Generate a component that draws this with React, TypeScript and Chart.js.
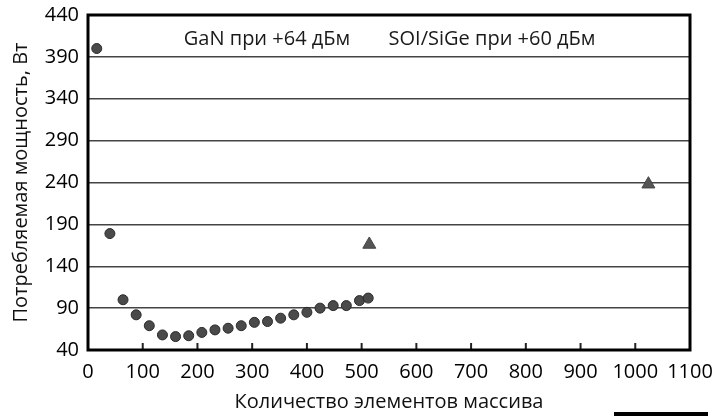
import React, { useEffect, useRef } from "react";
import { Chart, registerables } from "chart.js";

Chart.register(...registerables);

const ganX = [16, 40, 64, 88, 112, 136, 160, 184, 208, 232, 256, 280, 304, 328, 352, 376, 400, 424, 448, 472, 496, 512];
const ganY = [400, 179, 100, 82, 69, 58, 56, 57, 61, 64, 66, 69, 73, 74, 78, 82, 85, 90, 93, 93, 99, 102];
const soiX = [514, 1024];
const soiY = [166, 238];
const legendLabels = ["GaN при +64 дБм", "SOI/SiGe при +60 дБм"];
const xTitle = "Количество элементов массива";
const yTitle = "Потребляемая мощность, Вт";

const FONT = "'Open Sans', 'DejaVu Sans', sans-serif";

const decorPlugin = {
  id: "decor",
  afterDatasetsDraw(chart: any) {
    const { ctx, chartArea } = chart;
    const { left, right, top, bottom } = chartArea;
    const xs = chart.scales.x;
    ctx.save();
    ctx.strokeStyle = "#222";
    ctx.lineWidth = 2;
    xs.ticks.forEach((t: any) => {
      if (t.value <= 0 || t.value >= 1100) return;
      const px = xs.getPixelForValue(t.value);
      ctx.beginPath();
      ctx.moveTo(px, bottom);
      ctx.lineTo(px, bottom - 7);
      ctx.stroke();
    });
    ctx.strokeStyle = "#000";
    ctx.lineWidth = 3;
    ctx.strokeRect(left, top, right - left, bottom - top);
    ctx.fillStyle = "#1a1a1a";
    ctx.font = "20px " + FONT;
    ctx.textAlign = "center";
    ctx.textBaseline = "middle";
    ctx.fillText(legendLabels[0], left + (266 - 87), top + 24);
    ctx.fillText(legendLabels[1], left + (491 - 87), top + 24);
    ctx.fillStyle = "#000";
    ctx.fillRect(614, 412, 94, 4);
    ctx.restore();
  },
};

export default function App() {
  const ref = useRef<HTMLCanvasElement>(null);
  useEffect(() => {
    document.body.style.margin = "0";
    const chart = new Chart(ref.current!, {
      type: "scatter",
      data: {
        datasets: [
          {
            label: legendLabels[0],
            data: ganX.map((x, i) => ({ x, y: ganY[i] })),
            pointStyle: "circle",
            pointRadius: 5,
            backgroundColor: "#4a4a4a",
            borderColor: "#2a2a2a",
            borderWidth: 1,
          },
          {
            label: legendLabels[1],
            data: soiX.map((x, i) => ({ x, y: soiY[i] })),
            pointStyle: "triangle",
            pointRadius: 7.5,
            backgroundColor: "#555",
            borderColor: "#444",
            borderWidth: 1,
          },
        ],
      },
      options: {
        animation: false,
        responsive: true,
        maintainAspectRatio: false,
        layout: { padding: { top: 15, right: 30, left: 0, bottom: 0 } },
        plugins: { legend: { display: false }, tooltip: { enabled: false } },
        scales: {
          x: {
            type: "linear",
            min: 0,
            max: 1100,
            ticks: { stepSize: 100, color: "#000", padding: 10, font: { family: FONT, size: 20 }, maxRotation: 0, callback: (v: any) => String(v) },
            grid: { display: false, drawTicks: false },
            border: { display: false },
            title: { display: true, text: xTitle, color: "#111", font: { family: FONT, size: 20 }, padding: { bottom: 2, top: 0 } },
            afterFit: (s: any) => { s.height = 66; s.paddingLeft = 0; s.paddingRight = 0; },
          },
          y: {
            type: "linear",
            min: 40,
            max: 440,
            ticks: { stepSize: 50, color: "#000", padding: 9, font: { family: FONT, size: 20 }, callback: (v: any) => String(v) },
            grid: { color: "#444", lineWidth: 1.5, drawTicks: false },
            border: { display: false },
            title: { display: true, text: yTitle, color: "#111", font: { family: FONT, size: 20 }, padding: { top: 9, bottom: 0 } },
            afterFit: (s: any) => { s.width = 88; s.paddingTop = 0; s.paddingBottom = 0; },
          },
        },
      },
      plugins: [decorPlugin],
    });
    return () => chart.destroy();
  }, []);
  return (
    <div style={{ position: "absolute", left: 0, top: 0, width: 720, height: 416, background: "#fff" }}>
      <canvas ref={ref} />
    </div>
  );
}
